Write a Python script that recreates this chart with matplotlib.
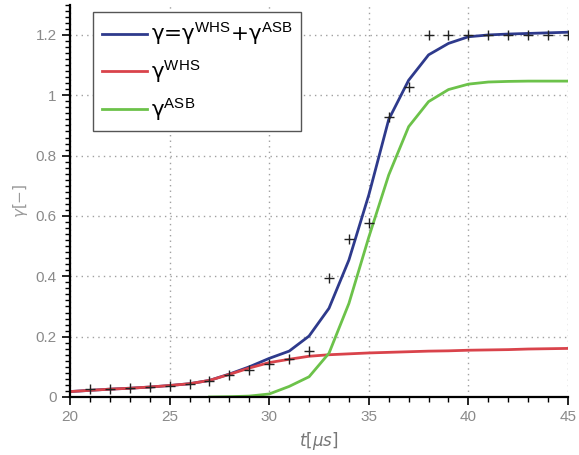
import matplotlib
matplotlib.use('Agg')
import matplotlib.pyplot as plt
from matplotlib.ticker import MultipleLocator, FormatStrFormatter

plt.rcParams['mathtext.fontset'] = 'custom'
plt.rcParams['mathtext.sf'] = 'Liberation Sans'
plt.rcParams['font.family'] = ['Liberation Sans', 'DejaVu Sans']

# measured points (+ markers)
t_meas = list(range(21, 46))
g_meas = [0.025, 0.027, 0.030, 0.033, 0.037, 0.042, 0.052, 0.072, 0.090, 0.108,
          0.125, 0.153, 0.395, 0.524, 0.577, 0.929, 1.027, 1.200, 1.200, 1.200,
          1.200, 1.200, 1.200, 1.200, 1.200]

# model curves
t_whs = list(range(20, 46))
g_whs = [0.018, 0.022, 0.026, 0.029, 0.033, 0.038, 0.044, 0.055, 0.075, 0.096,
         0.114, 0.125, 0.135, 0.140, 0.143, 0.146, 0.148, 0.150, 0.152, 0.153,
         0.155, 0.156, 0.157, 0.159, 0.160, 0.161]

t_tot = list(range(20, 46))
g_tot = [0.018, 0.022, 0.026, 0.029, 0.033, 0.038, 0.044, 0.055, 0.076, 0.100,
         0.128, 0.152, 0.202, 0.294, 0.454, 0.670, 0.920, 1.050, 1.134, 1.172,
         1.194, 1.200, 1.203, 1.205, 1.207, 1.209]

t_asb = list(range(27, 46))
g_asb = [0.0, 0.001, 0.003, 0.010, 0.035, 0.067, 0.145, 0.310, 0.530, 0.736,
         0.896, 0.979, 1.019, 1.037, 1.044, 1.046, 1.047, 1.047, 1.047]

fig = plt.figure(figsize=(5.79, 4.55), dpi=100)
ax = fig.add_axes([0.121, 0.1275, 0.860, 0.862])

ax.plot(t_tot, g_tot, color='#2e3a8c', lw=2, label=r'γ=γ$^{\mathsf{WHS}}$+γ$^{\mathsf{ASB}}$')
ax.plot(t_whs, g_whs, color='#d9434b', lw=2, label=r'γ$^{\mathsf{WHS}}$')
ax.plot(t_asb, g_asb, color='#6cc24a', lw=2, label=r'γ$^{\mathsf{ASB}}$')
ax.plot(t_meas, g_meas, '+', color='#222222', ms=6.5, mew=1)

ax.set_xlim(20, 45)
ax.set_ylim(0, 1.3)
ax.xaxis.set_major_locator(MultipleLocator(5))
ax.xaxis.set_minor_locator(MultipleLocator(1))
ax.yaxis.set_major_locator(MultipleLocator(0.2))
ax.yaxis.set_minor_locator(MultipleLocator(0.02))
ax.yaxis.set_major_formatter(FormatStrFormatter('%g'))

for s in ['top', 'right']:
    ax.spines[s].set_visible(False)
for s in ['left', 'bottom']:
    ax.spines[s].set_linewidth(1.6)

ax.tick_params(which='major', direction='out', length=6, width=1.2, labelcolor='#8a8a8a', labelsize=11)
ax.tick_params(which='minor', direction='out', length=3.5, width=1)
ax.grid(True, which='major', linestyle=(0, (1, 3)), color='#a0a0a0', lw=1)

ax.set_xlabel(r'$t[\mu s]$', color='#777777', fontsize=12)
ax.set_ylabel(r'$\gamma[-]$', color='#999999', fontsize=11)

leg = ax.legend(loc='upper left', bbox_to_anchor=(0.046, 0.982), borderaxespad=0,
                prop={'family': ['DejaVu Sans'], 'size': 15.5},
                handlelength=2.1, handletextpad=0.2, labelspacing=0.5,
                fancybox=False, framealpha=1, edgecolor='#555555', borderpad=0.4)
leg.get_frame().set_linewidth(1)

fig.savefig('out.png', dpi=100)
